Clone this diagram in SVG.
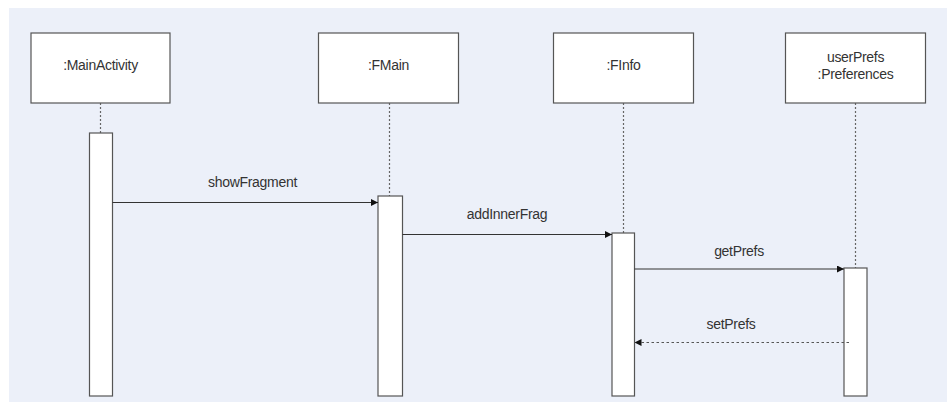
<svg xmlns="http://www.w3.org/2000/svg" width="947" height="403" viewBox="0 0 947 403">
  <style>
    .obj { fill: #ffffff; stroke: #555555; stroke-width: 1.2; }
    .act { fill: #ffffff; stroke: #555555; stroke-width: 1.2; }
    .life { stroke: #666666; stroke-width: 1.2; stroke-dasharray: 2 2; fill: none; }
    .msg { stroke: #333333; stroke-width: 1.2; fill: none; }
    .ret { stroke: #555555; stroke-width: 1.2; stroke-dasharray: 2.5 2.5; fill: none; }
    text { font-family: "Liberation Sans", Arial, sans-serif; font-size: 14px; fill: #333333; text-anchor: middle; letter-spacing: -0.3px; }
  </style>
  <defs>
    <marker id="arrow" viewBox="0 0 10 10" refX="10" refY="5" markerWidth="7" markerHeight="7" markerUnits="userSpaceOnUse" orient="auto">
      <path d="M0,0 L10,5 L0,10 Z" fill="#111111"/>
    </marker>
  </defs>

  <!-- canvas -->
  <rect x="9" y="8" width="938" height="394" fill="#ecf0f9"/>

  <!-- lifelines -->
  <g id="lifelines">
    <line class="life" x1="100.5" y1="103" x2="100.5" y2="133"/>
    <line class="life" x1="389.5" y1="103" x2="389.5" y2="196"/>
    <line class="life" x1="623.5" y1="103" x2="623.5" y2="233"/>
    <line class="life" x1="855.5" y1="103" x2="855.5" y2="268"/>
  </g>

  <g id="mainActivity">
    <rect class="obj" x="31" y="33" width="139" height="70"/>
    <text x="100.5" y="70">:MainActivity</text>
    <rect class="act" x="89.5" y="133" width="23" height="263"/>
  </g>

  <g id="fMain">
    <rect class="obj" x="318.5" y="33" width="140" height="70"/>
    <text x="388.5" y="70">:FMain</text>
    <rect class="act" x="378" y="196" width="24.5" height="200"/>
  </g>

  <g id="fInfo">
    <rect class="obj" x="553.5" y="33" width="140" height="70"/>
    <text x="623.5" y="70">:FInfo</text>
    <rect class="act" x="612" y="233" width="22.5" height="163"/>
  </g>

  <g id="userPrefs">
    <rect class="obj" x="785.5" y="33" width="140" height="70"/>
    <text x="855.5" y="62">userPrefs</text>
    <text x="855.5" y="79">:Preferences</text>
    <rect class="act" x="844" y="268" width="23" height="128"/>
  </g>

  <!-- messages -->
  <g id="connectors">
    <line class="msg" x1="112.5" y1="202.5" x2="378" y2="202.5" marker-end="url(#arrow)"/>
    <text x="252.5" y="187">showFragment</text>
    <line class="msg" x1="402.5" y1="234.5" x2="612" y2="234.5" marker-end="url(#arrow)"/>
    <text x="507" y="219">addInnerFrag</text>
    <line class="msg" x1="634.5" y1="269" x2="844" y2="269" marker-end="url(#arrow)"/>
    <text x="739" y="256">getPrefs</text>
    <line class="ret" x1="849" y1="342.5" x2="634.5" y2="342.5" marker-end="url(#arrow)"/>
    <text x="731" y="329">setPrefs</text>
  </g>
</svg>
